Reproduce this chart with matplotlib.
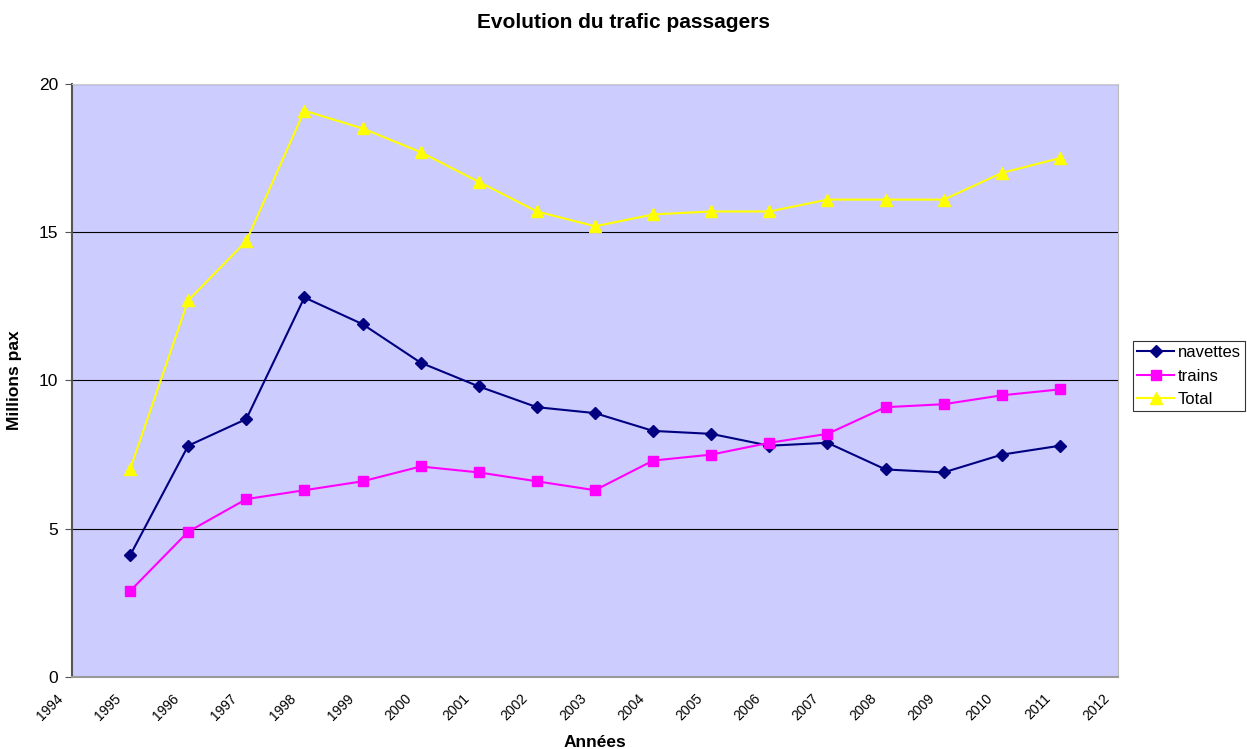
import matplotlib
matplotlib.use("Agg")
import matplotlib.pyplot as plt
from matplotlib.transforms import ScaledTranslation

plt.rcParams['font.family'] = ['Liberation Sans', 'DejaVu Sans']

years = list(range(1995, 2012))
navettes = [4.1, 7.8, 8.7, 12.8, 11.9, 10.6, 9.8, 9.1, 8.9, 8.3, 8.2, 7.8, 7.9, 7.0, 6.9, 7.5, 7.8]
trains = [2.9, 4.9, 6.0, 6.3, 6.6, 7.1, 6.9, 6.6, 6.3, 7.3, 7.5, 7.9, 8.2, 9.1, 9.2, 9.5, 9.7]
total = [7.0, 12.7, 14.7, 19.1, 18.5, 17.7, 16.7, 15.7, 15.2, 15.6, 15.7, 15.7, 16.1, 16.1, 16.1, 17.0, 17.5]
tick_years = list(range(1994, 2013))

fig = plt.figure(figsize=(12.47, 7.49), dpi=100)
ax = fig.add_axes([0.0577, 0.0961, 0.8389, 0.7918])
ax.set_facecolor('#CCCCFF')

ax.plot(years, navettes, color='#000080', marker='D', markersize=6, linewidth=1.5, label='navettes')
ax.plot(years, trains, color='#FF00FF', marker='s', markersize=7, linewidth=1.5, label='trains')
ax.plot(years, total, color='#FFFF00', marker='^', markersize=8, linewidth=1.5, label='Total')

ax.set_xlim(1994, 2012)
ax.set_ylim(0, 20)
ax.set_xticks(tick_years)
ax.set_yticks([0, 5, 10, 15, 20])
ax.tick_params(axis='y', labelsize=12.5, length=5, color='#555555', pad=5)
ax.tick_params(axis='x', length=0, pad=14)
ax.set_xticklabels([str(y) for y in tick_years], rotation=45, ha='right', va='center',
                   rotation_mode='anchor', fontsize=10)
# nudge the slanted labels left, like the original (after tick_params, which resets transforms)
shift = ScaledTranslation(-11 / 100, 0, fig.dpi_scale_trans)
for lab in ax.get_xticklabels():
    lab.set_transform(lab.get_transform() + shift)
ax.grid(axis='y', color='black', linewidth=0.8)
ax.set_axisbelow(True)

ax.spines['top'].set_color('#CCCCCC')
ax.spines['right'].set_color('#BBBBBB')
ax.spines['left'].set_color('#555555')
ax.spines['bottom'].set_color('#999999')
ax.spines['left'].set_linewidth(1.5)
ax.spines['bottom'].set_linewidth(1.5)

ax.set_xlabel('Années', fontsize=12.5, fontweight='bold', labelpad=8)
ax.set_ylabel('Millions pax', fontsize=12.5, fontweight='bold', labelpad=12)
fig.suptitle('Evolution du trafic passagers', fontsize=15, fontweight='bold', y=0.982)

leg = fig.legend(loc='upper left', bbox_to_anchor=(0.9086, 0.5447), fontsize=12,
                 frameon=True, fancybox=False, edgecolor='black', handlelength=2.2,
                 handletextpad=0.25, borderpad=0.25, labelspacing=0.5, borderaxespad=0)
leg.get_frame().set_linewidth(0.8)

fig.savefig('out.png', dpi=100)
